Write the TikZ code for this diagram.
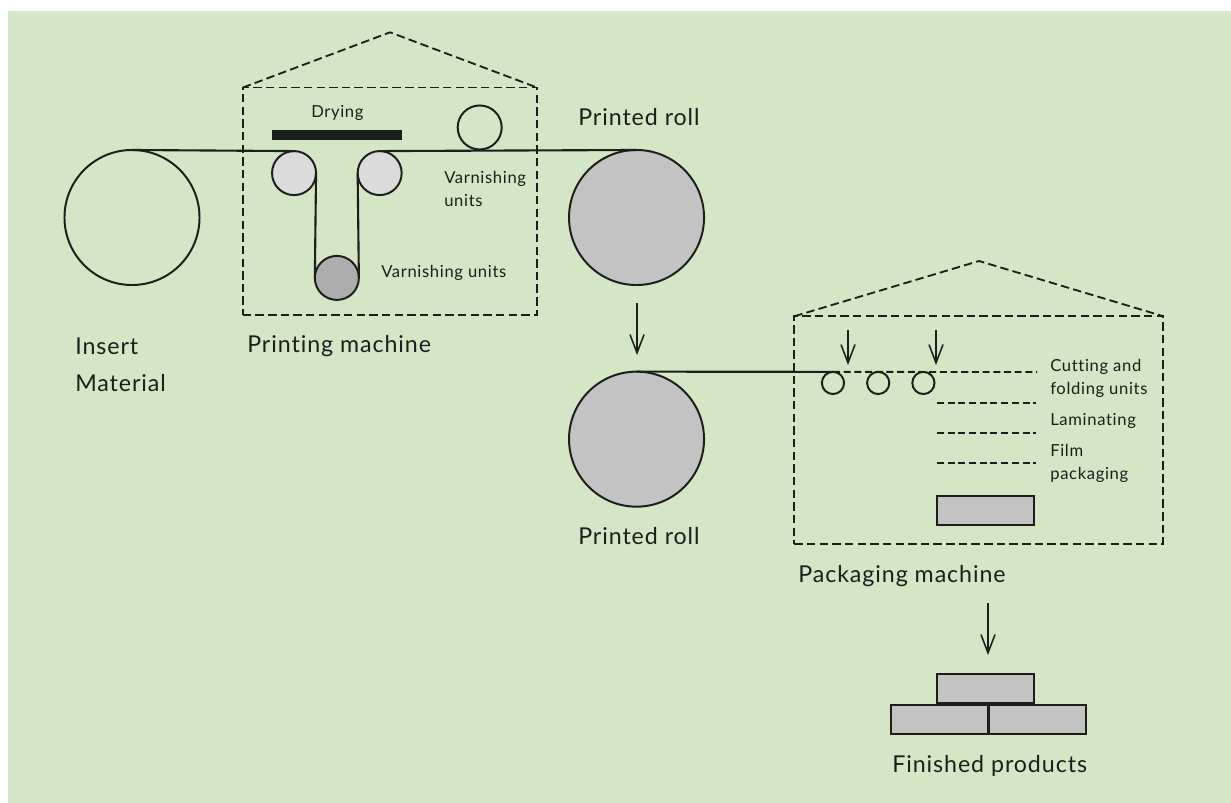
\documentclass[tikz,border=0pt]{standalone}
\usepackage{fontspec}
\setmainfont{Lato}[LetterSpace=4,Ligatures=NoCommon]
\usepackage{xcolor}
\usetikzlibrary{positioning,arrows.meta}
\definecolor{paper}{HTML}{D4E6C5}
\definecolor{ink}{HTML}{1C1E1C}
\definecolor{rollfill}{HTML}{C3C3C3}
\definecolor{lightfill}{HTML}{DBDBDB}
\definecolor{darkfill}{HTML}{ADADAD}
\tikzset{
  roll/.style={draw=ink,circle,line width=1.4pt,minimum size=3.375cm,inner sep=0pt,outer sep=0pt},
  roller/.style={draw=ink,circle,line width=1.4pt,minimum size=1.1cm,inner sep=0pt,outer sep=0pt},
  smallroller/.style={draw=ink,circle,line width=1.4pt,minimum size=0.555cm,inner sep=0pt,outer sep=0pt},
  machine/.style={draw=ink,rectangle,line width=1.3pt,dash pattern=on 6pt off 3pt,inner sep=0pt,outer sep=0pt},
  web/.style={draw=ink,line width=1.5pt},
  cutline/.style={draw=ink,line width=1.3pt,dash pattern=on 5pt off 2.6pt},
  feed/.style={draw=ink,line width=1.1pt,-{Straight Barb[length=13pt,width=10pt]}},
  pack/.style={draw=ink,fill=rollfill,rectangle,line width=1.5pt,minimum width=2.41cm,minimum height=0.72cm,inner sep=0pt,outer sep=0pt},
  biglabel/.style={text=ink,anchor=west,inner sep=0pt,font=\fontsize{16.5}{26}\selectfont,align=left},
  smalllabel/.style={text=ink,anchor=west,inner sep=0pt,font=\fontsize{11.8}{16}\selectfont,align=left}
}
\begin{document}
\begin{tikzpicture}[x=0.025cm,y=-0.025cm,node distance=0.2cm,on grid]
\useasboundingbox (0,0) rectangle (1231,803);
\fill[paper] (8,11) rectangle (1231,803);
% printing side
\node[roll](insert) at (132,217.5){};
\node[roll,fill=rollfill](printed_a)[right=12.61cm of insert]{};
\node[roller,fill=lightfill](roller_a)[right=4.05cm of insert,yshift=1.11cm]{};
\node[roller,fill=lightfill](roller_b)[right=2.14cm of roller_a]{};
\node[roller,fill=darkfill](roller_c)[below=2.62cm of roller_a,xshift=1.07cm]{};
\node[roller](roller_d)[right=2.5cm of roller_b,yshift=1.14cm]{};
\node[machine,minimum width=7.36cm,minimum height=5.68cm](box_a) at (390,201.2){};
\node[coordinate](roof_a) at (390,32.3){};
\node[draw=none,fill=ink,minimum width=3.25cm,minimum height=0.25cm,inner sep=0pt](dryer) at (337,135){};
\draw[machine] (box_a.north west) -- (roof_a) -- (box_a.north east);
\draw[web] (insert.north) -- (roller_a.north);
\draw[web] (roller_a.east) -- (roller_c.west);
\draw[web] (roller_b.west) -- (roller_c.east);
\draw[web] (roller_b.north) -- (printed_a.north);
% packaging side
\node[roll,fill=rollfill](printed_b)[below=5.54cm of printed_a]{};
\node[smallroller](cut_a)[right=4.91cm of printed_b,yshift=1.405cm]{};
\node[smallroller](cut_b)[right=1.13cm of cut_a]{};
\node[smallroller](cut_c)[right=1.13cm of cut_b]{};
\node[machine,minimum width=9.225cm,minimum height=5.685cm](box_b) at (978.8,430){};
\node[coordinate](roof_b) at (979,261){};
\draw[machine] (box_b.north west) -- (roof_b) -- (box_b.north east);
\draw[web] (printed_b.north) -- (cut_a.north);
\node[coordinate](cut_end) at (1037,372){};
\draw[cutline] (cut_a.north) -- (cut_end);
\node[coordinate](lam_a) at (937,403){};
\node[coordinate](lam_b) at (937,433){};
\node[coordinate](film_a) at (937,463){};
\node[coordinate](lam_a_end)[right=2.48cm of lam_a]{};
\node[coordinate](lam_b_end)[right=2.48cm of lam_b]{};
\node[coordinate](film_a_end)[right=2.48cm of film_a]{};
\draw[cutline] (lam_a) -- (lam_a_end);
\draw[cutline] (lam_b) -- (lam_b_end);
\draw[cutline] (film_a) -- (film_a_end);
\node[pack](product) at (985.5,510.5){};
% arrows
\node[coordinate](arr_a) at (637,303){};
\node[coordinate](arr_a_end) at (637,355){};
\node[coordinate](arr_b) at (848,330){};
\node[coordinate](arr_b_end) at (848,365){};
\node[coordinate](arr_c) at (936,330){};
\node[coordinate](arr_c_end) at (936,365){};
\node[coordinate](arr_d) at (988,603){};
\node[coordinate](arr_d_end) at (988,655){};
\draw[feed] (arr_a) -- (arr_a_end);
\draw[feed] (arr_b) -- (arr_b_end);
\draw[feed] (arr_c) -- (arr_c_end);
\draw[feed] (arr_d) -- (arr_d_end);
% finished stack
\node[pack](stack_top) at (985.5,688.5){};
\node[pack](stack_left) at (939.5,719.5){};
\node[pack](stack_right) at (1037.5,719.5){};
% labels
\node[biglabel](lbl_insert) at (75,365){Insert\\Material};
\node[biglabel](lbl_printing) at (247,346){Printing machine};
\node[biglabel](lbl_roll_a) at (578,117){Printed roll};
\node[biglabel](lbl_roll_b) at (578,536){Printed roll};
\node[biglabel](lbl_packaging) at (798,576){Packaging machine};
\node[biglabel](lbl_finished) at (892,766){Finished products};
\node[smalllabel](lbl_drying) at (311,113){Drying};
\node[smalllabel](lbl_varn_a) at (444,189){Varnishing\\units};
\node[smalllabel](lbl_varn_b) at (381,273){Varnishing units};
\node[smalllabel](lbl_cut) at (1050,378.5){Cutting and\\folding units};
\node[smalllabel](lbl_lam) at (1050,421){Laminating};
\node[smalllabel](lbl_film) at (1050,463.5){Film\\packaging};
\end{tikzpicture}
\end{document}
